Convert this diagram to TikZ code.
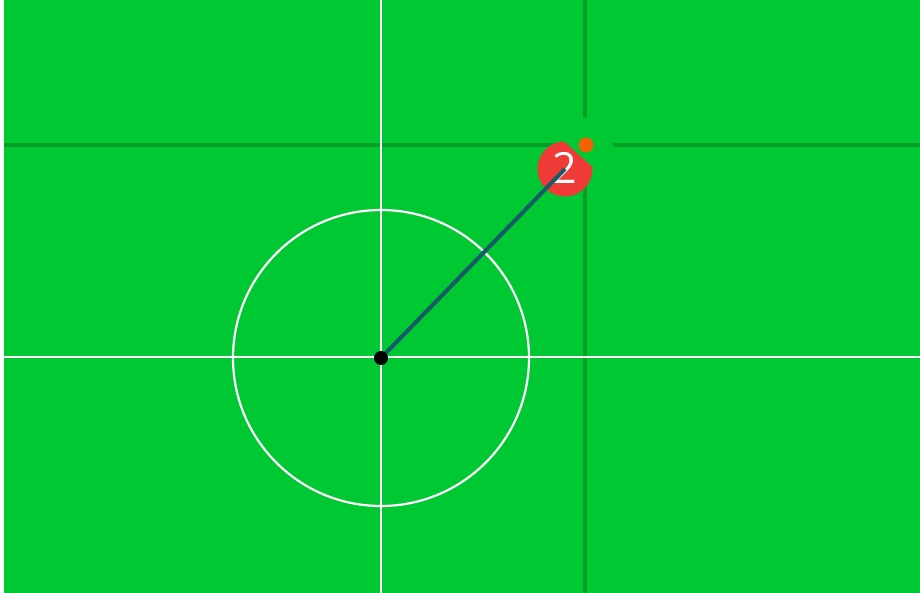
\documentclass[tikz,border=0pt]{standalone}
\usepackage{fontspec}
\newfontfamily\badgefont{Open Sans}
\definecolor{field}{RGB}{0,200,50}
\definecolor{darkline}{RGB}{0,160,40}
\definecolor{badgered}{RGB}{240,58,55}
\definecolor{dotorange}{RGB}{240,100,5}
\definecolor{teal}{RGB}{22,92,102}
\tikzset{
  whiteline/.style={draw=white, line width=2.4pt},
  guideline/.style={draw=darkline, line width=4pt},
}
\begin{document}
\begin{tikzpicture}[x=1pt,y=-1pt]
\useasboundingbox (0,0) rectangle (920,593);
\fill[white] (0,0) rectangle (920,593);
\fill[field] (4,0) rectangle (920,593);
% named points
\coordinate (C) at (381,358);
\coordinate (B) at (565,169);
\coordinate (O) at (586,145);
\coordinate (Hl) at (4,145);
\coordinate (Hr) at (920,145);
\coordinate (Vt) at (585,0);
\coordinate (Vb) at (585,593);
\coordinate (Wl) at (4,357);
\coordinate (Wr) at (920,357);
\coordinate (Wt) at (381,0);
\coordinate (Wb) at (381,593);
% dark guide lines
\path[guideline] (Hl) -- (Hr);
\path[guideline] (Vt) -- (Vb);
% gap around orange dot
\fill[field] (O) circle[radius=27];
% white lines and circle
\path[whiteline] (Wl) -- (Wr);
\path[whiteline] (Wt) -- (Wb);
\draw[white, line width=2.2pt] (C) circle[radius=148];
% badge
\fill[badgered] (B) ++(-4:27.5) arc[start angle=-4, end angle=268, radius=27.5] -- cycle;
\node[text=white, inner sep=0pt, font=\badgefont\fontsize{43}{43}\selectfont] (num) at (565,168) {2};
% orange dot
\fill[dotorange] (O) circle[radius=7.5];
% connector
\draw[teal, line width=4pt] (C) -- (B);
\node[circle, fill=black, minimum size=14pt, inner sep=0pt] (center) at (C) {};
\end{tikzpicture}
\end{document}
